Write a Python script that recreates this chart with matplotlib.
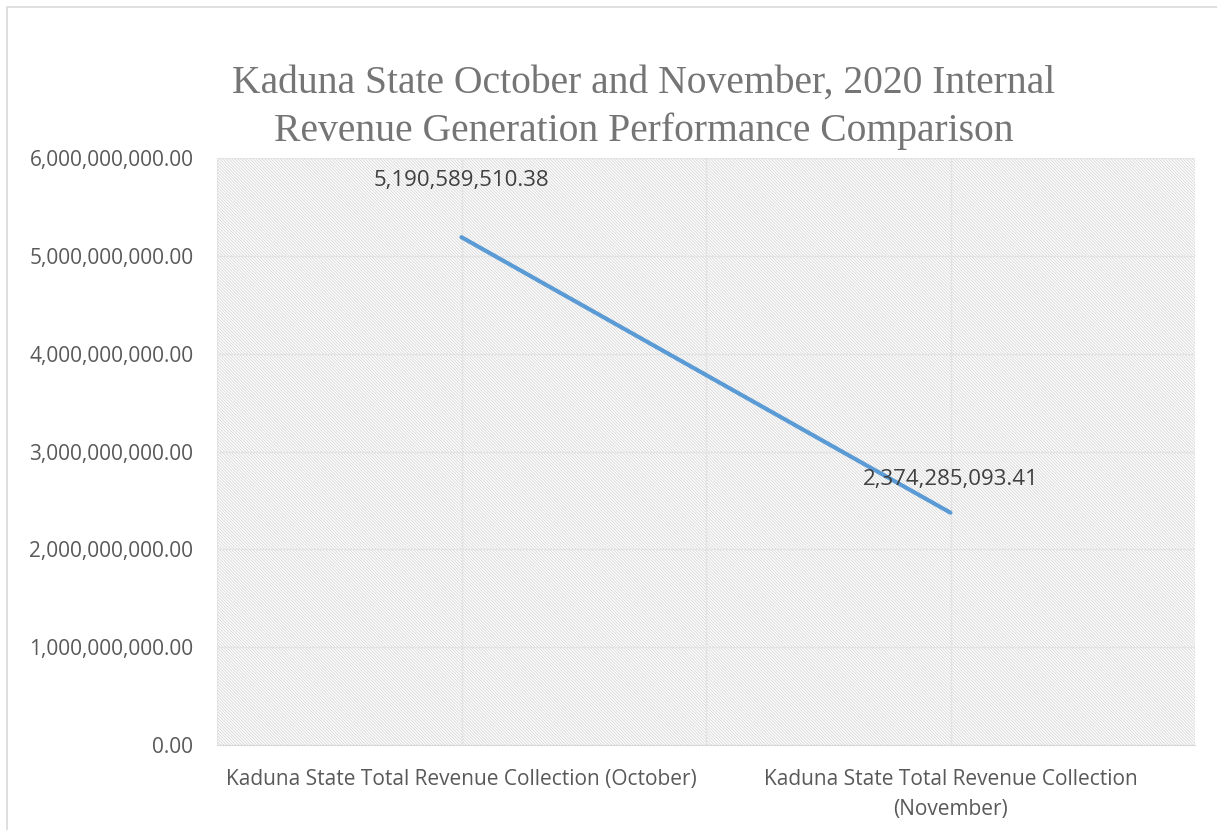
import matplotlib.pyplot as plt
from matplotlib.patches import Rectangle
from matplotlib.ticker import FuncFormatter

# data
categories = ['Kaduna State Total Revenue Collection (October)',
              'Kaduna State Total Revenue Collection\n(November)']
revenue = [5190589510.38, 2374285093.41]
point_labels = ['5,190,589,510.38', '2,374,285,093.41']
yticks = [0, 1e9, 2e9, 3e9, 4e9, 5e9, 6e9]

plt.rcParams['font.family'] = ['Open Sans', 'DejaVu Sans']

W, H = 1217, 830
fig = plt.figure(figsize=(W / 100, H / 100), dpi=100)

# outer chart border (only top and left show in the crop)
fig.patches.append(Rectangle((7 / W, -0.1), 1.2, (H - 7) / H + 0.1, transform=fig.transFigure,
                             fill=False, edgecolor='#d9d9d9', linewidth=1.2))

ax = fig.add_axes([217 / W, 1 - 745 / H, (1195 - 217) / W, (745 - 158) / H])
ax.set_xlim(-0.5, 1.5)
ax.set_ylim(0, 6e9)

# hatched plot area
plt.rcParams['hatch.color'] = '#d6d6d6'
plt.rcParams['hatch.linewidth'] = 0.6
ax.add_patch(Rectangle((0, 0), 1, 1, transform=ax.transAxes, facecolor='white',
                       hatch='\\' * 11, edgecolor='#d6d6d6', linewidth=0, zorder=0))

for y in yticks:
    ax.axhline(y, color='#e3e3e3', linewidth=1, zorder=1)
for xv in [-0.5, 0, 0.5, 1, 1.5]:
    ax.axvline(xv, color='#e3e3e3', linewidth=1, zorder=1)

x = list(range(len(categories)))
ax.plot(x, revenue, color='#5b9bd5', linewidth=3, solid_capstyle='round', zorder=3)

# label offsets in points (october label sits higher in the original)
offs = [33, 16]
for xi, v, lab, o in zip(x, revenue, point_labels, offs):
    ax.annotate(lab, (xi, v), xytext=(0, o), textcoords='offset points', ha='center',
                va='bottom', fontsize=16, color='#404040', zorder=4)

ax.set_xticks(x)
ax.set_xticklabels(categories, fontsize=15, color='#595959', linespacing=1.6)
ax.set_yticks(yticks)
ax.yaxis.set_major_formatter(FuncFormatter(lambda v, p: '{:,.2f}'.format(v)))
ax.tick_params(axis='y', labelsize=15, labelcolor='#595959', length=0, pad=17)
ax.tick_params(axis='x', length=0, pad=17)
for s in ax.spines.values():
    s.set_visible(False)
ax.spines['bottom'].set_visible(True)
ax.spines['bottom'].set_color('#d9d9d9')

fig.text(644 / W, 1 - 65 / H, 'Kaduna State October and November, 2020 Internal\nRevenue Generation Performance Comparison',
         ha='center', va='top', fontsize=28.5, color='#757575', family='Liberation Serif', linespacing=1.38)

fig.savefig('out.png', dpi=100)
